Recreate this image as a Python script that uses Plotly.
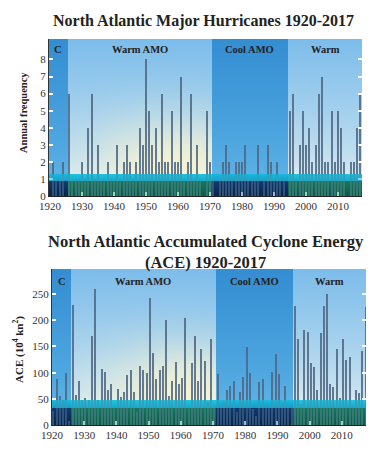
import base64, struct, zlib
import numpy as np
import plotly.graph_objects as go

# ---------------- data ----------------
years = list(range(1920, 2018))
major_hurricanes = [0, 2, 1, 1, 2, 0, 6, 1, 1, 1,
                    2, 1, 4, 6, 1, 3, 1, 1, 2, 1,
                    1, 3, 1, 2, 3, 2, 1, 2, 4, 3,
                    8, 5, 3, 4, 2, 6, 2, 2, 5, 2,
                    2, 7, 1, 2, 6, 1, 3, 1, 0, 5,
                    2, 1, 0, 1, 2, 3, 2, 1, 2, 2,
                    2, 3, 1, 1, 1, 3, 0, 1, 3, 2,
                    1, 2, 1, 1, 0, 5, 6, 1, 3, 5,
                    3, 4, 2, 3, 6, 7, 2, 2, 5, 2,
                    5, 4, 2, 0, 2, 2, 4, 6]
ace = [27, 87, 56, 48, 100, 7, 230, 57, 84, 47,
       51, 48, 170, 259, 47, 107, 101, 67, 78, 35,
       69, 54, 63, 95, 105, 63, 24, 113, 106, 99,
       243, 138, 88, 105, 113, 200, 55, 85, 121, 79,
       90, 205, 37, 119, 170, 85, 146, 123, 44, 165,
       38, 97, 36, 46, 67, 75, 84, 25, 63, 92,
       149, 100, 31, 17, 83, 88, 36, 34, 102, 135,
       97, 36, 75, 39, 32, 228, 165, 40, 181, 177,
       119, 110, 67, 175, 227, 250, 78, 72, 146, 51,
       164, 125, 129, 36, 67, 62, 141, 226]
period_labels = ["C", "Warm AMO", "Cool AMO", "Warm"]
period_bounds = [1925.5, 1970.5, 1994.5]   # C | Warm AMO | Cool AMO | Warm
x_tick_vals = [1920, 1930, 1940, 1950, 1960, 1970, 1980, 1990, 2000, 2010]
y1_ticks = [0, 1, 2, 3, 4, 5, 6, 7, 8]
y2_ticks = [0, 50, 100, 150, 200, 250]

W_FIG, H_FIG = 375, 454
PAGE_OFFSET = 8  # the page body adds an 8px offset to the figure


def px_x(p):
    return (p - PAGE_OFFSET) / W_FIG


def px_y(p):
    return 1 - (p - PAGE_OFFSET) / H_FIG


def png_uri(arr):
    h, w, c = arr.shape
    ctype = 6 if c == 4 else 2
    raw = b"".join(b"\x00" + arr[r].tobytes() for r in range(h))

    def chunk(t, d):
        return struct.pack(">I", len(d)) + t + d + struct.pack(">I", zlib.crc32(t + d) & 0xffffffff)

    png = (b"\x89PNG\r\n\x1a\n"
           + chunk(b"IHDR", struct.pack(">IIBBBBB", w, h, 8, ctype, 0, 0, 0))
           + chunk(b"IDAT", zlib.compress(raw, 9))
           + chunk(b"IEND", b""))
    return "data:image/png;base64," + base64.b64encode(png).decode()


def lerp(a, b, t):
    a = np.array(a, float)
    b = np.array(b, float)
    return a + (b - a) * t[..., None]


def make_images(x0, x1, ymax, bounds, band_lo, band_hi, glow_x, W, H):
    u = x0 + (np.arange(W) + 0.5) / W * (x1 - x0)
    v = ymax * (1 - (np.arange(H) + 0.5) / H)
    U, V = np.meshgrid(u, v)
    cool = (U < bounds[0]) | ((U >= bounds[1]) & (U < bounds[2]))

    t = np.clip((V - band_hi) / (ymax - band_hi), 0, 1)
    warm_up = lerp((214, 233, 241), (125, 189, 235), t ** 0.75)
    g = np.exp(-((U - glow_x) / 24.0) ** 2 - (((V - band_hi) / ymax) / 0.33) ** 2)
    warm_up = lerp(warm_up.reshape(-1, 3), (252, 245, 206), (0.9 * g).reshape(-1)).reshape(H, W, 3)
    cool_up = lerp((92, 178, 230), (52, 142, 210), t ** 0.8)

    s = np.clip((band_hi - V) / (band_hi - band_lo), 0, 1)
    warm_band = lerp((40, 195, 225), (0, 140, 170), s)
    cool_band = lerp((25, 170, 222), (0, 105, 160), s)

    s2 = np.clip(V / band_lo, 0, 1)
    warm_lo = lerp((6, 45, 45), (10, 95, 82), s2)
    cool_lo = lerp((4, 16, 42), (10, 55, 105), s2)

    up = np.where(cool[..., None], cool_up, warm_up)
    bd = np.where(cool[..., None], cool_band, warm_band)
    lo = np.where(cool[..., None], cool_lo, warm_lo)
    base = np.where((V >= band_hi)[..., None], up, np.where((V >= band_lo)[..., None], bd, lo))
    base = np.clip(base, 0, 255).astype(np.uint8)

    ov = np.zeros((H, W, 4), float)
    band_mask = (V >= band_lo) & (V < band_hi)
    lo_mask = V < band_lo
    ov[band_mask] = (30, 195, 225, 150)
    ov[lo_mask & ~cool] = (35, 150, 110, 110)
    ov[lo_mask & cool] = (20, 70, 125, 100)
    ov = np.clip(ov, 0, 255).astype(np.uint8)
    return png_uri(base), png_uri(ov)


# ---------------- geometry ----------------
X1_RANGE = [1919.7, 2017.5]
Y1_MAX = 9.2
X2_RANGE = [1920.0, 2017.5]
Y2_MAX = 298
SHIFT2 = 0.4  # bottom chart bars/periods sit half a year right of the ticks

bounds2 = [b + SHIFT2 for b in period_bounds]

bg1, ov1 = make_images(X1_RANGE[0], X1_RANGE[1], Y1_MAX, period_bounds, 0.85, 1.3, 1959, 313, 157)
bg2, ov2 = make_images(X2_RANGE[0], X2_RANGE[1], Y2_MAX, bounds2, 33, 47, 1961, 314, 156)

BAR_COLOR = "rgba(78,103,130,0.86)"
SERIF = "Liberation Serif, Times New Roman, serif"
TICK_FONT = dict(family=SERIF, size=11, color="#333")

fig = go.Figure()
fig.add_trace(go.Bar(x=years, y=major_hurricanes, width=0.62, marker=dict(color=BAR_COLOR, line_width=0),
                     xaxis="x", yaxis="y", showlegend=False, hoverinfo="x+y"))
fig.add_trace(go.Bar(x=years, y=ace, width=0.62, offset=SHIFT2 - 0.31,
                     marker=dict(color=BAR_COLOR, line_width=0),
                     xaxis="x2", yaxis="y2", showlegend=False, hoverinfo="x+y"))
# empty traces to activate the mirrored right-hand tick axes
fig.add_trace(go.Scatter(x=[None], y=[None], xaxis="x", yaxis="y3", showlegend=False, hoverinfo="skip"))
fig.add_trace(go.Scatter(x=[None], y=[None], xaxis="x2", yaxis="y4", showlegend=False, hoverinfo="skip"))

common_x = dict(tickvals=x_tick_vals, ticks="inside", ticklen=4, tickwidth=1.5, tickcolor="white",
                showline=True, linecolor="#222", linewidth=1, showgrid=False, zeroline=False,
                tickfont=TICK_FONT, fixedrange=True, automargin=False)
common_y = dict(ticks="inside", ticklen=4, tickwidth=1.5, tickcolor="white",
                showline=True, linecolor="#333", linewidth=1, showgrid=False, zeroline=False,
                tickfont=TICK_FONT, fixedrange=True, automargin=False)
right_y = dict(ticks="inside", ticklen=4, tickwidth=1.5, tickcolor="white", showticklabels=False,
               showline=False, showgrid=False, zeroline=False, fixedrange=True, automargin=False)

fig.update_layout(
    width=W_FIG, height=H_FIG,
    margin=dict(l=0, r=0, t=0, b=0, pad=0),
    paper_bgcolor="white", plot_bgcolor="rgba(0,0,0,0)",
    bargap=0, barmode="overlay", showlegend=False,
    xaxis=dict(domain=[px_x(49), px_x(362)], range=X1_RANGE, anchor="y", **common_x),
    yaxis=dict(domain=[px_y(196), px_y(39)], range=[0, Y1_MAX], tickvals=y1_ticks, anchor="x", **common_y),
    xaxis2=dict(domain=[px_x(52), px_x(366)], range=X2_RANGE, anchor="y2", **common_x),
    yaxis2=dict(domain=[px_y(425), px_y(269)], range=[0, Y2_MAX], tickvals=y2_ticks, anchor="x2", **common_y),
    yaxis3=dict(overlaying="y", side="right", anchor="x", range=[0, Y1_MAX], tickvals=y1_ticks, **right_y),
    yaxis4=dict(overlaying="y2", side="right", anchor="x2", range=[0, Y2_MAX], tickvals=y2_ticks, **right_y),
)

images = []
for src, layer, xr, ymax, xa, ya in [(bg1, "below", X1_RANGE, Y1_MAX, "x", "y"),
                                      (ov1, "above", X1_RANGE, Y1_MAX, "x", "y"),
                                      (bg2, "below", X2_RANGE, Y2_MAX, "x2", "y2"),
                                      (ov2, "above", X2_RANGE, Y2_MAX, "x2", "y2")]:
    images.append(dict(source=src, xref=xa, yref=ya, x=xr[0], y=ymax, sizex=xr[1] - xr[0], sizey=ymax,
                       sizing="stretch", layer=layer, xanchor="left", yanchor="top"))
fig.update_layout(images=images)


def label(text, x, y, size, xref="paper", angle=0):
    return dict(text=text, x=x, y=y, xref=xref, yref="paper", showarrow=False, textangle=angle,
                xanchor="center", yanchor="middle",
                font=dict(family=SERIF, size=size, color="#222", weight="bold"))


ann = [
    label("North Atlantic Major Hurricanes 1920-2017", px_x(203), px_y(21), 16),
    label("North Atlantic Accumulated Cyclone Energy<br>(ACE) 1920-2017", px_x(206), px_y(252), 16.5),
    label("Annual frequency", px_x(23), px_y(113), 10.5, angle=-90),
    label("ACE (10<sup>4</sup> kn<sup>2</sup>)", px_x(18), px_y(350), 11, angle=-90),
]
edges1 = [X1_RANGE[0]] + period_bounds + [X1_RANGE[1]]
edges2 = [X2_RANGE[0]] + bounds2 + [X2_RANGE[1]]
for i, lab in enumerate(period_labels):
    ann.append(label(lab, (edges1[i] + edges1[i + 1]) / 2, px_y(49), 10.5, xref="x"))
    ann.append(label(lab, (edges2[i] + edges2[i + 1]) / 2, px_y(281), 10.5, xref="x2"))
fig.update_layout(annotations=ann)

fig.write_html("out.html")
